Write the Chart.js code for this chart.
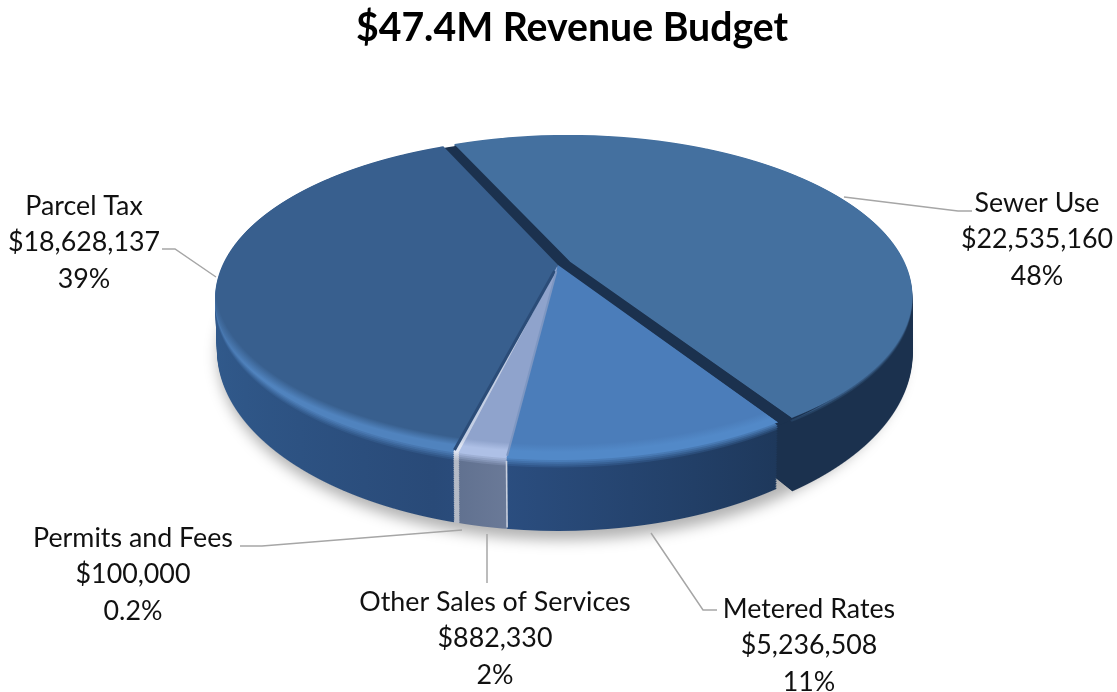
<!DOCTYPE html>
<html>
<head>
<meta charset="utf-8">
<style>
  html, body { margin: 0; padding: 0; background: #fff; }
  canvas { display: block; }
</style>
<script src="https://cdn.jsdelivr.net/npm/chart.js@4/dist/chart.umd.min.js"></script>
</head>
<body>
<canvas id="revenue_chart" width="1117" height="692"></canvas>
<script>
const chartTitle = "$47.4M Revenue Budget";
const categories = ["Sewer Use", "Metered Rates", "Other Sales of Services", "Permits and Fees", "Parcel Tax"];
const revenues = [22535160, 5236508, 882330, 100000, 18628137];
const shares = ["48%", "11%", "2%", "0.2%", "39%"];

// styles, same order as the categories
const faceColors = ["#44709F", "#4B7DBA", "#8FA3CC", "#C4CFE4", "#385F8E"];
const rimColors = ["#44709F", "#5289C8", "#AEC0E6", "#DDE4F2", "#5083BE"];
const wallLeft = ["#1B314E", null, "#5C6D8C", "#B4BAC6", null];
const wallRight = ["#1B314E", null, "#6C7B99", "#B4BAC6", null];
const rimDepth = [0.07, 0.13, 0.13, 0.13, 0.13];
const explode = [0.042, 0, 0, 0, 0];
const wallDrop = [0.03, 0, 0, 0, 0];
const drawOrder = [0, 4, 3, 2, 1];

// label centre, the three text rows and the leader line of each category
const labelX = [1037, 809, 495, 133, 84];
const labelY = [203, 609, 602, 538, 206];
const leaders = [
    [[844, 197], [958, 211], [972, 211]],
    [[651, 533], [703, 610], [717, 610]],
    [[487, 534], [487, 583]],
    [[462, 530], [262, 546], [240, 546]],
    [[216, 277], [175, 249], [162, 249]]
];

// perspective of the pie: top surface and bottom surface
const topPlane = { cx: 558, b: 265, a: 99.6, c: -0.2074, k: 335.5 };
const bottomPlane = { cx: 558, b: 312.4, a: 108.4, c: -0.2074, k: 333.6 };

function lerp(p, q, t) { return p + (q - p) * t; }

function planeAt(t) {
    return {
        cx: topPlane.cx,
        b: lerp(topPlane.b, bottomPlane.b, t),
        a: lerp(topPlane.a, bottomPlane.a, t),
        c: topPlane.c,
        k: lerp(topPlane.k, bottomPlane.k, t)
    };
}

function project(plane, angle, r) {
    const u = Math.cos(angle) * r, v = Math.sin(angle) * r, w = 1 + plane.c * v;
    return [plane.cx + plane.k * u / w, (plane.b + plane.a * v) / w];
}

function hexRgb(h) {
    return [parseInt(h.slice(1, 3), 16), parseInt(h.slice(3, 5), 16), parseInt(h.slice(5, 7), 16)];
}

function mix(c1, c2, f) {
    const p = hexRgb(c1), q = hexRgb(c2);
    return "rgb(" + p.map((n, i) => Math.round(lerp(n, q[i], f))).join(",") + ")";
}

function paintArc(ctx, arc, shift, dropY, over) {
    const saved = arc.options;
    const mid = (arc.startAngle + arc.endAngle) / 2;
    const s = shift * arc.outerRadius;
    arc.options = Object.assign({}, saved, over);
    ctx.save();
    ctx.translate(Math.cos(mid) * s, Math.sin(mid) * s + dropY * arc.outerRadius);
    arc.draw(ctx);
    ctx.restore();
    arc.options = saved;
}

// range of flat v (-1 back, +1 front) a slice covers, so rows can skip it
function sliceRange(arc) {
    let lo = 0, hi = 0;
    for (let i = 0; i <= 60; i++) {
        const v = Math.sin(lerp(arc.startAngle, arc.endAngle, i / 60));
        lo = Math.min(lo, v);
        hi = Math.max(hi, v);
    }
    return [lo - 0.08, hi + 0.08];
}

// paints the flat slices row by row, each row with its own perspective scale
function drawPlane(ctx, arcs, plane, minV, paintFn) {
    const R = arcs[0].outerRadius, ax = arcs[0].x, ay = arcs[0].y;
    const top = Math.floor((plane.b - plane.a) / (1 - plane.c)) - 8;
    const bottom = Math.ceil((plane.b + plane.a) / (1 + plane.c)) + 8;
    const ranges = arcs.map(sliceRange);
    for (let Y = top; Y <= bottom; Y++) {
        const mid = Y + 0.5;
        const v = (mid - plane.b) / (plane.a - plane.c * mid);
        if (v < minV) continue;
        const w = 1 + plane.c * v;
        const sx = plane.k / w / R;
        const sy = (plane.a - plane.b * plane.c) / (w * w) / R;
        ctx.save();
        ctx.setTransform(1, 0, 0, 1, 0, 0);
        ctx.beginPath();
        ctx.rect(0, Y, 1117, 1);
        ctx.clip();
        ctx.setTransform(sx, 0, 0, sy, plane.cx - ax * sx, mid - (ay + v * R) * sy);
        arcs.forEach((arc, n) => {
            if (v >= ranges[n][0] && v <= ranges[n][1]) paintFn(arc, n);
        });
        ctx.restore();
    }
}

function strokeBetween(ctx, p, q, color, width) {
    ctx.strokeStyle = color;
    ctx.lineWidth = width;
    ctx.beginPath();
    ctx.moveTo(p[0], p[1]);
    ctx.lineTo(q[0], q[1]);
    ctx.stroke();
}

const pie3d = {
    id: "pie3d",
    beforeDatasetDraw(chart) {
        const ctx = chart.ctx;
        const all = chart.getDatasetMeta(0).data;
        const R = all[0].outerRadius, ax = all[0].x, ay = all[0].y;

        // soft shadow under the pie
        ctx.save();
        const p1 = planeAt(1);
        const t1 = (p1.b - p1.a) / (1 - p1.c), b1 = (p1.b + p1.a) / (1 + p1.c);
        ctx.filter = "blur(7px)";
        ctx.fillStyle = "rgba(0,0,0,0.3)";
        ctx.beginPath();
        ctx.ellipse(p1.cx + 3, (t1 + b1) / 2 + 6, 343, (b1 - t1) / 2 + 3, 0, 0, Math.PI * 2);
        ctx.fill();
        ctx.restore();

        // side wall, stacked from the bottom up, slice by slice
        const wallStops = [[0, "#315A8C"], [0.35, "#294A78"], [0.43, "#2B4E80"], [0.82, "#1C3556"], [1, "#1B304C"]];
        const LAYERS = 38;
        drawOrder.forEach(i => {
            const arc = all[i];
            for (let n = LAYERS; n >= 1; n--) {
                const t = n / LAYERS;
                const rim = Math.min(t / rimDepth[i], 1);
                const fill = ctx.createLinearGradient(ax - R, 0, ax + R, 0);
                if (wallLeft[i]) {
                    fill.addColorStop(0.35, mix(rimColors[i], wallLeft[i], rim));
                    fill.addColorStop(0.45, mix(rimColors[i], wallRight[i], rim));
                } else {
                    wallStops.forEach(s => fill.addColorStop(s[0], mix(rimColors[i], s[1], rim)));
                }
                drawPlane(ctx, [arc], planeAt(t), t > 0.3 ? -0.25 : -2, a => paintArc(ctx, a, explode[i], wallDrop[i] * t, { backgroundColor: fill }));
            }
        });

        // dark floor showing through the gap around the pulled out slice
        drawPlane(ctx, [all[0]], planeAt(0.05), -2, a => paintArc(ctx, a, 0, 0, { backgroundColor: "#1B314E" }));

        // top surface with a lighter bevel towards the front
        const faces = all.map((arc, i) => {
            const g = ctx.createRadialGradient(ax, ay - 0.08 * R, 0, ax, ay - 0.08 * R, 1.08 * R);
            g.addColorStop(0, faceColors[i]);
            g.addColorStop(0.94, faceColors[i]);
            g.addColorStop(0.97, rimColors[i]);
            g.addColorStop(1, rimColors[i]);
            return g;
        });
        const byOrder = drawOrder.map(i => all[i]);
        drawPlane(ctx, byOrder, topPlane, -2, (arc, n) => {
            paintArc(ctx, arc, explode[drawOrder[n]], 0, { backgroundColor: faces[drawOrder[n]] });
        });
        ctx.setTransform(1, 0, 0, 1, 0, 0);

        // seams along the thin slices
        const parcelEdge = all[4].startAngle, otherEdge = all[2].startAngle;
        ctx.save();
        strokeBetween(ctx, project(topPlane, parcelEdge, 0.04), project(topPlane, parcelEdge, 0.99), "#2B4C78", 3);
        strokeBetween(ctx, project(topPlane, otherEdge, 0.04), project(topPlane, otherEdge, 0.99), "#7E97C2", 2);
        strokeBetween(ctx, project(planeAt(0.04), otherEdge, 1), project(planeAt(1), otherEdge, 0.995), "#C9D0DE", 1.6);
        ctx.restore();
        return false;
    },
    afterDraw(chart) {
        const ctx = chart.ctx;
        ctx.save();
        ctx.strokeStyle = "#A6A6A6";
        ctx.lineWidth = 1.5;
        leaders.forEach(pts => {
            ctx.beginPath();
            pts.forEach((p, i) => i ? ctx.lineTo(p[0], p[1]) : ctx.moveTo(p[0], p[1]));
            ctx.stroke();
        });
        ctx.fillStyle = "#111";
        ctx.font = "26.8px Lato";
        ctx.textAlign = "center";
        ctx.textBaseline = "middle";
        categories.forEach((name, i) => {
            ctx.fillText(name, labelX[i], labelY[i]);
            ctx.fillText("$" + revenues[i].toLocaleString("en-US"), labelX[i], labelY[i] + 36);
            ctx.fillText(shares[i], labelX[i], labelY[i] + 73);
        });
        ctx.restore();
    }
};

new Chart(document.getElementById("revenue_chart"), {
    type: "pie",
    data: {
        labels: categories,
        datasets: [{
            data: revenues,
            backgroundColor: faceColors,
            borderWidth: 0
        }]
    },
    options: {
        responsive: false,
        devicePixelRatio: 1,
        animation: false,
        rotation: -24,
        layout: { padding: { left: 27 } },
        plugins: {
            legend: { display: false },
            tooltip: { enabled: false },
            title: {
                display: true,
                text: chartTitle,
                fullSize: false,
                color: "#000",
                font: { family: "Lato", size: 39.2, weight: "bold" },
                padding: { top: 5, bottom: 6 }
            }
        }
    },
    plugins: [pie3d]
});
</script>
</body>
</html>
